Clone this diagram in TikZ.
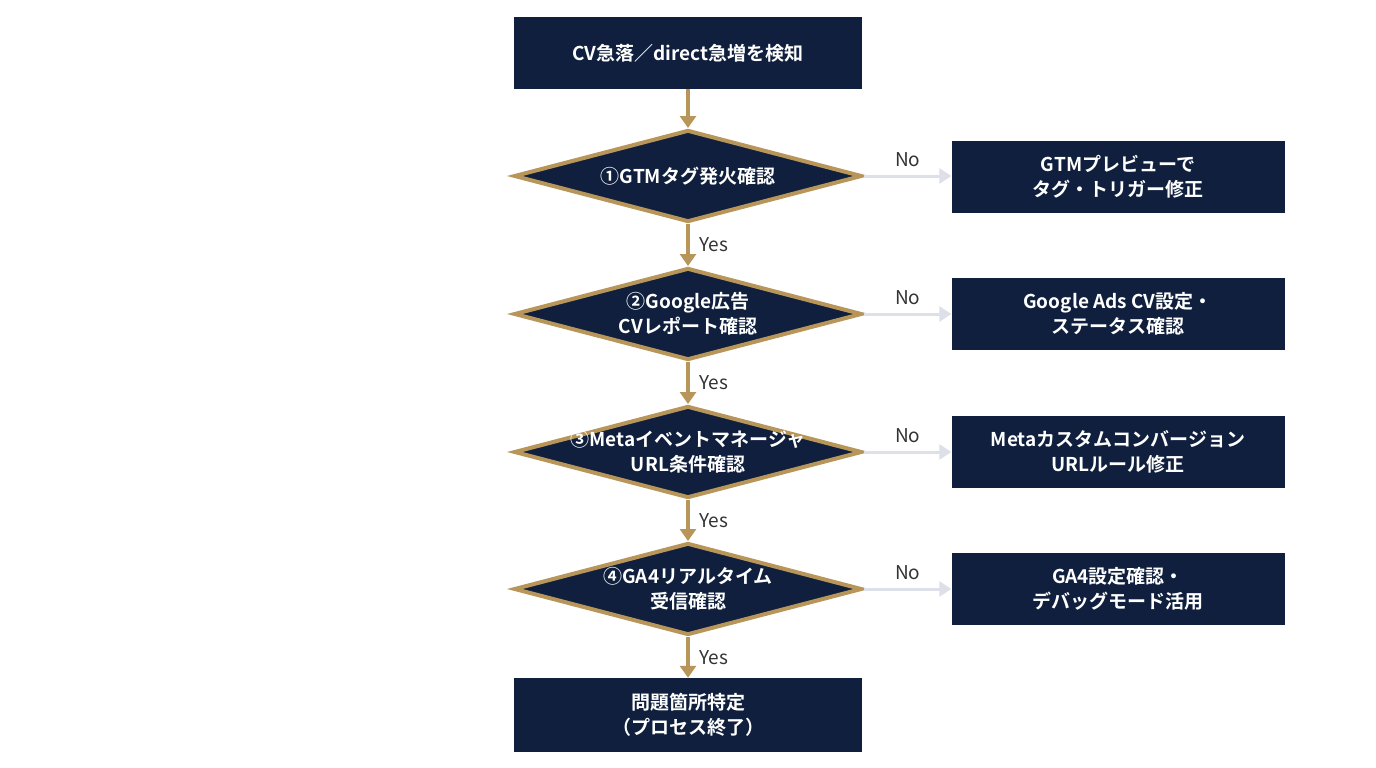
\documentclass[tikz,border=0pt]{standalone}
\usepackage{fontspec}
\setmainfont{Noto Sans CJK JP}[BoldFont={Noto Sans CJK JP Bold}]
\usetikzlibrary{shapes.geometric,arrows.meta}
\definecolor{navy}{HTML}{0F1F3D}
\definecolor{gold}{HTML}{B8965A}
\definecolor{lgray}{HTML}{DDE0E8}
\begin{document}
\begin{tikzpicture}[x=1pt,y=-1pt,
  box/.style={fill=navy,draw=none,minimum width=348pt,minimum height=72pt,inner sep=0pt},
  rbox/.style={fill=navy,draw=none,minimum width=333pt,minimum height=72pt,inner sep=0pt},
  dia/.style={diamond,fill=navy,draw=gold,line width=4pt,minimum width=348pt,minimum height=92pt,inner sep=0pt},
  txt/.style={text=white,font=\fontsize{19}{25}\selectfont\bfseries,align=center},
  yarr/.style={draw=gold,line width=4pt,-{Triangle[length=12pt,width=16pt]}},
  narr/.style={draw=lgray,line width=3pt,-{Triangle[length=12pt,width=15pt]}},
  lab/.style={text=black!80,font=\fontsize{19}{22}\selectfont}]
\useasboundingbox (0,0) rectangle (1376,768);
\fill[white] (0,0) rectangle (1376,768);
\node[box] (s) at (688,53) {};
\node[txt] at (s) {CV急落／direct急増を検知};
\node[dia] (d1) at (688,176) {};
\node[dia] (d2) at (688,314) {};
\node[dia] (d3) at (688,452) {};
\node[dia] (d4) at (688,589) {};
\node[box,minimum height=74pt] (e) at (688,715) {};
\node[txt] at (d1) {①GTMタグ発火確認};
\node[txt] at (d2) {②Google広告\\CVレポート確認};
\node[txt] at (d3) {③Metaイベントマネージャ\\URL条件確認};
\node[txt] at (d4) {④GA4リアルタイム\\受信確認};
\node[txt] at (e) {問題箇所特定\\（プロセス終了）};
\node[rbox] (r1) at (1118,177) {};
\node[rbox] (r2) at (1118,314) {};
\node[rbox] (r3) at (1118,452) {};
\node[rbox] (r4) at (1118,589) {};
\node[txt] at (r1) {GTMプレビューで\\タグ・トリガー修正};
\node[txt] at (r2) {Google Ads CV設定・\\ステータス確認};
\node[txt] at (r3) {Metaカスタムコンバージョン\\URLルール修正};
\node[txt] at (r4) {GA4設定確認・\\デバッグモード活用};
\draw[yarr] (s.south) -- (d1.north);
\draw[yarr] (d1.south) -- node[lab,right,xshift=6pt]{Yes} (d2.north);
\draw[yarr] (d2.south) -- node[lab,right,xshift=6pt]{Yes} (d3.north);
\draw[yarr] (d3.south) -- node[lab,right,xshift=6pt]{Yes} (d4.north);
\draw[yarr] (d4.south) -- node[lab,right,xshift=6pt]{Yes} (e.north);
\foreach \i in {1,2,3,4}{
  \draw[narr] (d\i.east) -- node[lab,above,yshift=4pt]{No} (d\i.east -| r\i.west);
}
\end{tikzpicture}
\end{document}
